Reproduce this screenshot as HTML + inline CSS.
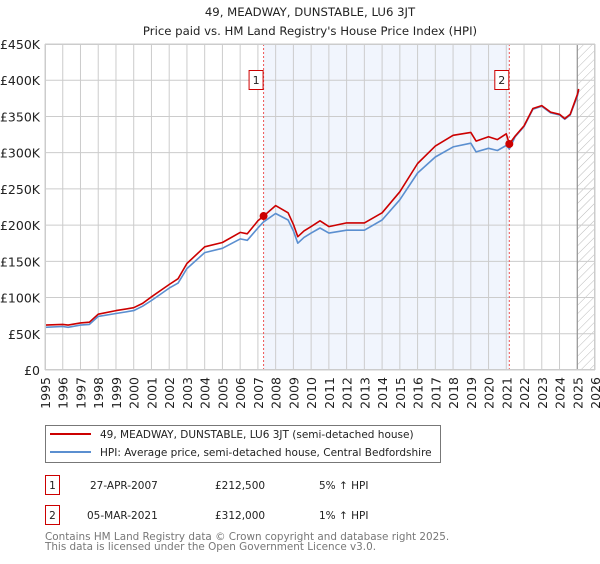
<!DOCTYPE html>
<html><head><meta charset="utf-8"><style>
body{margin:0;background:#fff;font-family:"DejaVu Sans","Liberation Sans",sans-serif;}
svg text{font-family:"DejaVu Sans","Liberation Sans",sans-serif;}
</style></head><body>
<svg id="c" width="600" height="560" xmlns="http://www.w3.org/2000/svg">
<defs><pattern id="hatch" width="6" height="6" patternUnits="userSpaceOnUse" patternTransform="rotate(45)"><line x1="0" y1="0" x2="0" y2="6" stroke="#bbb" stroke-width="1"/></pattern></defs>
<text x="310" y="16" text-anchor="middle" font-size="11.7" fill="#222">49, MEADWAY, DUNSTABLE, LU6 3JT</text>
<text x="310" y="35" text-anchor="middle" font-size="11.7" fill="#222">Price paid vs. HM Land Registry's House Price Index (HPI)</text>
<g id="plot"></g>
<g>
<rect x="45.5" y="425.5" width="395" height="37" fill="#fff" stroke="#777"/>
<line x1="50" y1="434" x2="91" y2="434" stroke="#cc0000" stroke-width="2"/>
<text x="100" y="438" font-size="10.5" fill="#222">49, MEADWAY, DUNSTABLE, LU6 3JT (semi-detached house)</text>
<line x1="50" y1="452" x2="91" y2="452" stroke="#5b8fd0" stroke-width="2"/>
<text x="100" y="456" font-size="10.5" fill="#222">HPI: Average price, semi-detached house, Central Bedfordshire</text>
</g>
<g font-size="10.5" fill="#222">
<rect x="45.5" y="475.5" width="14" height="19" fill="#fff" stroke="#cc0000"/>
<text x="52.5" y="489" text-anchor="middle">1</text>
<text x="90" y="489">27-APR-2007</text>
<text x="215" y="489">£212,500</text>
<text x="319" y="489">5% ↑ HPI</text>
<rect x="45.5" y="505.5" width="14" height="19" fill="#fff" stroke="#cc0000"/>
<text x="52.5" y="519" text-anchor="middle">2</text>
<text x="87" y="519">05-MAR-2021</text>
<text x="215" y="519">£312,000</text>
<text x="319" y="519">1% ↑ HPI</text>
</g>
<text x="45" y="540" font-size="10.4" fill="#777">Contains HM Land Registry data © Crown copyright and database right 2025.</text>
<text x="45" y="550" font-size="10.4" fill="#777">This data is licensed under the Open Government Licence v3.0.</text>
</svg>
<script>
const hpiYears=[1995,1996,1996.3,1997,1997.5,1998,1999,2000,2000.5,2001,2002,2002.5,2003,2004,2005,2006,2006.4,2007,2007.3,2008,2008.7,2009,2009.25,2009.6,2010,2010.5,2011,2012,2013,2014,2015,2016,2017,2018,2019,2019.3,2020,2020.5,2021,2021.17,2021.5,2022,2022.5,2023,2023.5,2024,2024.3,2024.6,2025,2025.08];
const hpiValues=[59,60,59,62,63,74,78,82,88,96,113,120,140,162,168,181,179,196,204,216,207,192,175,183,189,196,189,193,193,207,235,272,294,308,313,301,306,303,310,305,322,336,360,364,355,352,346,352,378,386];
const priceYears=[1995,1996,1996.3,1997,1997.5,1998,1999,2000,2000.5,2001,2002,2002.5,2003,2004,2005,2006,2006.4,2007,2007.32,2008,2008.7,2009,2009.25,2009.6,2010,2010.5,2011,2012,2013,2014,2015,2016,2017,2018,2019,2019.3,2020,2020.5,2021,2021.17,2021.5,2022,2022.5,2023,2023.5,2024,2024.3,2024.6,2025,2025.08];
const priceValues=[62,63,62,65,66,77,82,86,92,101,118,126,147,170,176,190,188,206,212.5,227,217,201,184,192,198,206,198,203,203,217,246,285,309,324,328,316,322,318,326,312,323,337,361,365,356,353,347,353,380,388];
const yTicks=[0,50,100,150,200,250,300,350,400,450];
const yTickLabels=["£0","£50K","£100K","£150K","£200K","£250K","£300K","£350K","£400K","£450K"];
const xYears=[1995,1996,1997,1998,1999,2000,2001,2002,2003,2004,2005,2006,2007,2008,2009,2010,2011,2012,2013,2014,2015,2016,2017,2018,2019,2020,2021,2022,2023,2024,2025,2026];
const saleYears=[2007.32,2021.17];
const saleValues=[212.5,312];
const saleLabels=["1","2"];
const X0=45,X1=595,Y0=370,Y1=44;
const xs=y=>X0+(y-1995)/(2026-1995)*(X1-X0);
const ys=v=>Y0-v/450*(Y0-Y1);
const NS="http://www.w3.org/2000/svg";
const g=document.getElementById('plot');
function mk(t,a){const e=document.createElementNS(NS,t);for(const k in a)e.setAttribute(k,a[k]);g.appendChild(e);return e;}
let e;
e=mk('rect',{x:xs(saleYears[0]),y:Y1,width:xs(saleYears[1])-xs(saleYears[0]),height:Y0-Y1,fill:'#eef3fc',opacity:0.8});


e=mk('rect',{x:xs(2025.0),y:Y1,width:X1-xs(2025.0),height:Y0-Y1,fill:'url(#hatch)'});


yTicks.forEach((t,i)=>{
 e=mk('line',{x1:X0,x2:X1,y1:ys(t),y2:ys(t),stroke:'#ccc','stroke-width':1});
 
 
 e=mk('text',{x:40,y:ys(t)+5,'text-anchor':'end','font-size':12.5,fill:'#222'});
 e.textContent=yTickLabels[i];
 
 
});
xYears.forEach(yr=>{
 e=mk('line',{x1:xs(yr),x2:xs(yr),y1:Y1,y2:Y0,stroke:'#ccc','stroke-width':1});
 
 
 e=mk('text',{x:0,y:0,'text-anchor':'end','font-size':12.5,fill:'#222',transform:`translate(${xs(yr)+5},377) rotate(-90)`});
 e.textContent=yr;
 
 
});
e=mk('line',{x1:xs(2025.0),x2:xs(2025.0),y1:Y1,y2:Y0,stroke:'#888','stroke-width':1});


saleYears.forEach((sy,i)=>{
 e=mk('line',{x1:xs(sy),x2:xs(sy),y1:Y1,y2:Y0,stroke:'#ee5555','stroke-width':1,'stroke-dasharray':'2,2'});
 
 
});
function path(xa,va,col,name){
 const d=xa.map((x,i)=>(i?'L':'M')+xs(x).toFixed(1)+','+ys(va[i]).toFixed(1)).join('');
 e=mk('path',{d:d,fill:'none',stroke:col,'stroke-width':1.6,'stroke-linejoin':'round'});
 
 
}
path(hpiYears,hpiValues,'#5b8fd0','hpi-line');
path(priceYears,priceValues,'#cc0000','price-line');
saleYears.forEach((sy,i)=>{
 e=mk('circle',{cx:xs(sy),cy:ys(saleValues[i]),r:4,fill:'#cc0000'});
 
 
 e=mk('rect',{x:xs(sy)-14.5,y:70.5,width:14,height:19,fill:'#fff',stroke:'#cc0000'});
 
 
 e=mk('text',{x:xs(sy)-7.5,y:84,'text-anchor':'middle','font-size':11,fill:'#222'});
 e.textContent=saleLabels[i];
 
 
});
e=mk('rect',{x:X0+0.5,y:Y1+0.5,width:X1-X0-1,height:Y0-Y1-1,fill:'none',stroke:'#ccc'});


</script>
</body></html>
